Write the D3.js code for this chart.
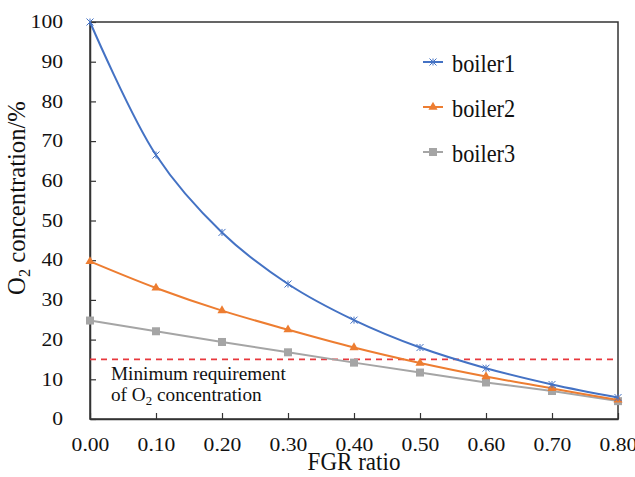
<!DOCTYPE html>
<html>
<head>
<meta charset="utf-8">
<script src="https://cdn.jsdelivr.net/npm/d3@7"></script>
</head>
<body style="margin: 0; background: #fff;">
<div id="chart_holder"></div>
<script>
const fgrRatio = [0, 0.1, 0.2, 0.3, 0.4, 0.5, 0.6, 0.7, 0.8]
const boiler1 = [100, 66.5, 47, 34, 24.9, 18, 12.8, 8.7, 5.4]
const boiler2 = [39.7, 33, 27.3, 22.5, 18, 14.1, 10.7, 7.7, 4.8]
const boiler3 = [24.8, 22.1, 19.4, 16.8, 14.2, 11.7, 9.2, 7.05, 4.5]
const seriesNames = ["boiler1", "boiler2", "boiler3"]
const yTicks = [0, 10, 20, 30, 40, 50, 60, 70, 80, 90, 100]
const minRequirement = 15

// serif face only comes out right at some sizes here, so text is drawn at 18 and scaled
const serif = "'Liberation Serif'"
const baseSize = 18
let width = 635, height = 477
let margin = {left: 90, top: 22, right: 17, bottom: 58}

let svg = d3.select('#chart_holder').append('svg')
    .attr('width', width)
    .attr('height', height)

let x = d3.scaleLinear().domain([0, 0.8]).range([margin.left, width - margin.right])
let y = d3.scaleLinear().domain([0, 100]).range([height - margin.bottom, margin.top])

function serifText(sel) {
    return sel.style('font-family', serif).attr('font-size', baseSize).attr('fill', '#111')
}

// frame
svg.append('rect')
    .attr('x', x(0)).attr('y', y(100))
    .attr('width', x(0.8) - x(0)).attr('height', y(0) - y(100))
    .attr('fill', 'none').attr('stroke', '#333').attr('stroke-width', 1.5)

let xAxis = svg.append('g')
    .attr('transform', `translate(0, ${y(0)})`)
    .call(d3.axisBottom(x).tickValues(fgrRatio).tickSizeInner(-6).tickSizeOuter(0).tickFormat(d3.format('.2f')))
let yAxis = svg.append('g')
    .attr('transform', `translate(${x(0)}, 0)`)
    .call(d3.axisLeft(y).tickValues(yTicks).tickSizeInner(-6).tickSizeOuter(0))

for (let ax of [xAxis, yAxis]) {
    ax.attr('font-family', null).attr('font-size', null)
    ax.selectAll('.domain').attr('stroke', '#333').attr('stroke-width', 1.5)
    ax.selectAll('.tick line').attr('stroke', '#333').attr('stroke-width', 1.2)
    serifText(ax.selectAll('.tick text'))
}
xAxis.selectAll('.tick text')
    .attr('y', 0)
    .attr('transform', 'translate(0, 19) scale(1.2, 1)')
yAxis.selectAll('.tick text')
    .attr('x', 0)
    .attr('transform', 'translate(-27, 0) scale(1.2, 1)')

// axis titles
serifText(svg.append('text'))
    .attr('transform', 'translate(354, 470) scale(1.28, 1.37)')
    .attr('text-anchor', 'middle')
    .text('FGR ratio')

let yTitle = serifText(svg.append('text'))
    .attr('transform', 'translate(25, 198) rotate(-90) scale(1.37)')
    .attr('text-anchor', 'middle')
yTitle.append('tspan').text('O')
yTitle.append('tspan').attr('font-size', 12).attr('dy', 4).text('2')
yTitle.append('tspan').attr('dy', -4).text(' concentration/%')

// minimum requirement line
svg.append('line')
    .attr('x1', x(0)).attr('x2', x(0.8))
    .attr('y1', y(minRequirement)).attr('y2', y(minRequirement))
    .attr('stroke', '#e8383d').attr('stroke-width', 1.8).attr('stroke-dasharray', '6,5')

serifText(svg.append('text'))
    .attr('transform', 'translate(111, 380) scale(1.07, 1)')
    .text('Minimum requirement')
let note2 = serifText(svg.append('text'))
    .attr('transform', 'translate(111, 401) scale(1.07, 1)')
note2.append('tspan').text('of O')
note2.append('tspan').attr('font-size', 12).attr('dy', 4).text('2')
note2.append('tspan').attr('dy', -4).text(' concentration')

let series = [
    {name: seriesNames[0], values: boiler1, color: '#4472c4', marker: 'star', curve: d3.curveCatmullRom},
    {name: seriesNames[1], values: boiler2, color: '#ed7d31', marker: 'triangle', curve: d3.curveCatmullRom},
    {name: seriesNames[2], values: boiler3, color: '#a5a5a5', marker: 'square', curve: d3.curveLinear},
]

function drawMarker(g, type, color, cx, cy) {
    if (type === 'star') {
        let s = 3.5
        g.append('path')
            .attr('d', `M${cx - s} ${cy - s}L${cx + s} ${cy + s}M${cx - s} ${cy + s}L${cx + s} ${cy - s}M${cx} ${cy - s}L${cx} ${cy + s}`)
            .attr('stroke', color).attr('stroke-width', 1).attr('fill', 'none')
    } else if (type === 'triangle') {
        g.append('path')
            .attr('d', d3.symbol(d3.symbolTriangle, 36)())
            .attr('transform', `translate(${cx}, ${cy})`)
            .attr('fill', color)
    } else {
        g.append('rect')
            .attr('x', cx - 4).attr('y', cy - 4).attr('width', 8).attr('height', 8)
            .attr('fill', color)
    }
}

let line = d3.line().x((d, i) => x(fgrRatio[i])).y(d => y(d))

for (let s of series.slice().reverse()) {
    let g = svg.append('g')
    g.append('path')
        .attr('d', line.curve(s.curve)(s.values))
        .attr('fill', 'none').attr('stroke', s.color).attr('stroke-width', 2)
    s.values.forEach((v, i) => drawMarker(g, s.marker, s.color, x(fgrRatio[i]), y(v)))
}

// legend
let legendY = [62, 107, 152]
series.forEach((s, i) => {
    let g = svg.append('g')
    g.append('line')
        .attr('x1', 423).attr('x2', 443).attr('y1', legendY[i]).attr('y2', legendY[i])
        .attr('stroke', s.color).attr('stroke-width', 2)
    drawMarker(g, s.marker, s.color, 433, legendY[i])
    serifText(g.append('text'))
        .attr('transform', `translate(452, ${legendY[i] + 9.5}) scale(1.24, 1.37)`)
        .text(s.name)
})
</script>
</body>
</html>
